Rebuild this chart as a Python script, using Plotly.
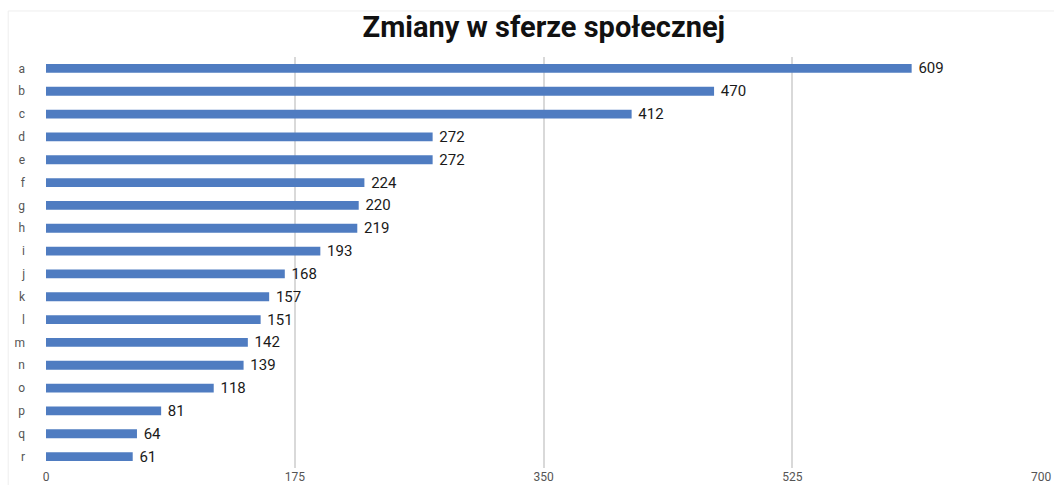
import plotly.graph_objects as go

# Categories and counts
categories = ["a", "b", "c", "d", "e", "f", "g", "h", "i",
              "j", "k", "l", "m", "n", "o", "p", "q", "r"]
values = [609, 470, 412, 272, 272, 224, 220, 219, 193,
          168, 157, 151, 142, 139, 118, 81, 64, 61]
x_ticks = [0, 175, 350, 525, 700]

fig = go.Figure(
    go.Bar(
        x=values,
        y=categories,
        orientation="h",
        marker=dict(color="#4f7cc1", line=dict(width=0)),
        text=[f" {v}" for v in values],
        textposition="outside",
        constraintext="none",
        textfont=dict(family="Roboto", size=15, color="#1a1a1a"),
        cliponaxis=False,
    )
)

fig.update_layout(
    width=1054,
    height=485,
    margin=dict(l=46, r=13, t=57, b=17, autoexpand=False),
    paper_bgcolor="white",
    plot_bgcolor="white",
    bargap=0.61,
    showlegend=False,
    title=dict(
        text="<b>Zmiany w sferze społecznej</b>",
        x=0.516,
        xanchor="center",
        y=0.945,
        yanchor="middle",
        font=dict(family="Roboto", size=29, color="#111111"),
    ),
    shapes=[
        dict(type="line", xref="paper", yref="paper",
             x0=-0.038, x1=1.02, y0=1.112, y1=1.112,
             line=dict(color="#eeeeee", width=1)),
        dict(type="line", xref="paper", yref="paper",
             x0=-0.038, x1=-0.038, y0=1.112, y1=-0.05,
             line=dict(color="#eeeeee", width=1)),
    ],
)

fig.update_xaxes(
    range=[0, 700],
    tickvals=x_ticks,
    ticktext=[str(t) for t in x_ticks],
    showgrid=True,
    gridcolor="#d9d9d9",
    gridwidth=2,
    zeroline=False,
    showline=False,
    automargin=False,
    tickfont=dict(family="Roboto", size=12, color="#555555"),
    ticklabelstandoff=0,
)

fig.update_yaxes(
    categoryorder="array",
    categoryarray=categories,
    autorange="reversed",
    showgrid=False,
    showline=False,
    automargin=False,
    ticks="",
    tickfont=dict(family="Roboto", size=12, color="#555555"),
    ticklabelstandoff=20,
)

fig.write_html("out.html")
